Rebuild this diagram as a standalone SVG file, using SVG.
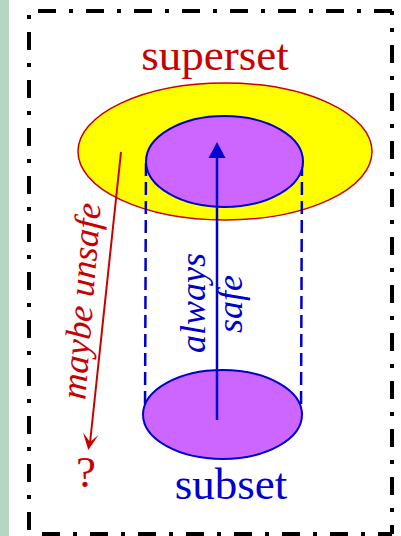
<svg xmlns="http://www.w3.org/2000/svg" width="401" height="536" viewBox="0 0 401 536">
  <style>
    .frame { stroke: #000; stroke-width: 4; stroke-dasharray: 18 13 4 13; fill: none; }
    .guide { stroke: #0000cc; stroke-width: 2.5; stroke-dasharray: 13 6; fill: none; }
    .set { fill: #cc66ff; stroke: #0000cc; stroke-width: 2; }
    .lbl { font-family: "Liberation Serif", "Times New Roman", serif; }
    .red { fill: #c80000; }
    .blue { fill: #0000cc; }
  </style>

  <rect x="0" y="0" width="401" height="536" fill="#ffffff"/>
  <!-- side strip -->
  <rect x="0" y="0" width="9" height="536" fill="#b5d6c1"/>

  <!-- dash-dot frame -->
  <g id="frame">
    <line class="frame" x1="29" y1="11" x2="392" y2="11" stroke-dashoffset="39"/>
    <line class="frame" x1="29" y1="11" x2="29" y2="534" stroke-dashoffset="27"/>
    <line class="frame" x1="392" y1="11" x2="392" y2="534" stroke-dashoffset="14"/>
    <line class="frame" x1="29" y1="534" x2="392" y2="534" stroke-dashoffset="35"/>
  </g>

  <!-- superset disc -->
  <g id="superset">
    <ellipse cx="225" cy="151.5" rx="147" ry="68.5" fill="#ffff00" stroke="#c80000" stroke-width="1.5"/>
    <text class="lbl red" x="215" y="70" font-size="45" text-anchor="middle">superset</text>
  </g>

  <!-- cylinder walls -->
  <g id="connectors">
    <line class="guide" x1="146" y1="163" x2="145" y2="414"/>
    <line class="guide" x1="302" y1="163" x2="301" y2="414"/>
  </g>

  <!-- subset projected into superset -->
  <g id="subset-top">
    <ellipse class="set" cx="224.5" cy="161.5" rx="78.5" ry="45.5"/>
  </g>

  <!-- subset -->
  <g id="subset">
    <ellipse class="set" cx="222.5" cy="414.5" rx="79.5" ry="44.5"/>
    <text class="lbl blue" x="231" y="499" font-size="45" text-anchor="middle">subset</text>
  </g>

  <!-- arrows -->
  <g id="arrows">
    <line x1="217" y1="420" x2="217" y2="154" stroke="#0000cc" stroke-width="2.5"/>
    <polygon points="217,142 225.5,158 208.5,158" fill="#0000cc"/>
    <line x1="121" y1="152" x2="90" y2="443" stroke="#c80000" stroke-width="2"/>
    <polygon points="88.3,450 83,432.5 90,442 98.5,435" fill="#c80000"/>
  </g>

  <!-- labels -->
  <g id="labels">
    <text class="lbl blue" font-style="italic" font-size="36" text-anchor="middle" transform="translate(205,303) rotate(-90)">always</text>
    <text class="lbl blue" font-style="italic" font-size="36" text-anchor="middle" transform="translate(242,304) rotate(-90)">safe</text>
    <text class="lbl red" font-style="italic" font-size="36" text-anchor="middle" transform="translate(93,302) rotate(-85.5)">maybe unsafe</text>
    <text class="lbl red" x="86" y="487" font-size="45" text-anchor="middle">?</text>
  </g>
</svg>
